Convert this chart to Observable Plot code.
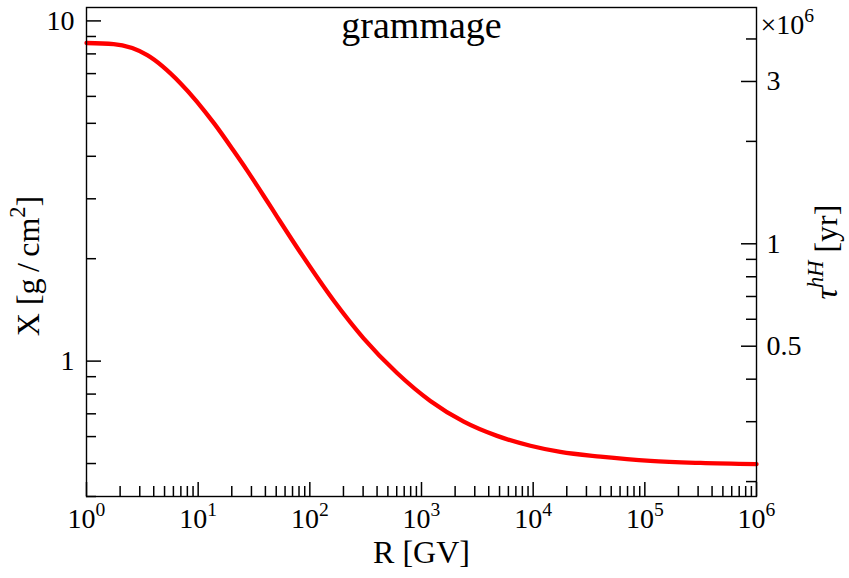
<!DOCTYPE html>
<html><head><meta charset="utf-8">
<script src="https://cdn.jsdelivr.net/npm/d3@7"></script>
<script src="https://cdn.jsdelivr.net/npm/@observablehq/plot@0.6"></script>
<style>
  html,body{margin:0;padding:0;background:#fff}
  #chart{width:849px;height:578px}
</style>
</head><body><div id="chart"></div>
<script>
// ---- data ----
const rigidityGV = [1, 1.75, 3.5, 7, 14, 21, 27.5, 41.5, 51, 82, 164, 303, 604, 1200, 2390, 4750, 9440, 17500, 40000, 112000, 316000, 1000000];
const grammageX  = [8.61, 8.54, 7.93, 6.54, 4.98, 4.13, 3.63, 2.95, 2.655, 2.09, 1.505, 1.167, 0.923, 0.764, 0.664, 0.603, 0.564, 0.541, 0.524, 0.509, 0.502, 0.498];

const xDecades    = [1, 10, 100, 1000, 10000, 100000, 1000000];
const xExponents  = ["0", "1", "2", "3", "4", "5", "6"];
const yMajor      = [1, 10];
const yMajorText  = ["1", "10"];
const yMinor      = [0.4, 0.5, 0.6, 0.7, 0.8, 0.9, 2, 3, 4, 5, 6, 7, 8, 9];
const tauPerX     = 0.452;          // 10^6 yr per g/cm^2 (right axis scale)
const tauMajor    = [0.5, 1, 3];
const tauMajorText= ["0.5", "1", "3"];
const tauMinor    = [0.2, 0.3, 0.4, 0.6, 0.7, 0.8, 0.9, 2, 4];
const yDomain     = [0.4, 10.95];

const data = rigidityGV.map((r, i) => ({R: r, X: grammageX[i]}));
const xMinor = xDecades.slice(0, -1).flatMap(d => [2,3,4,5,6,7,8,9].map(m => m * d));

const W = 849, H = 578, ML = 86, MR = 93, MT = 7, MB = 82;
const PW = W - ML - MR, PH = H - MT - MB;
const font = "'Liberation Serif', 'DejaVu Serif', serif";

const chart = Plot.plot({
  width: W, height: H,
  marginLeft: ML, marginRight: MR, marginTop: MT, marginBottom: MB,
  style: {fontFamily: font, background: "white", color: "black", overflow: "visible"},
  x: {type: "log", domain: [1, 1e6], axis: null},
  y: {type: "log", domain: yDomain, axis: null},
  marks: [
    // ticks (inward)
    Plot.tickX(xDecades, {x: d => d, insetTop: PH - 14, stroke: "black", strokeWidth: 1.5}),
    Plot.tickX(xMinor,   {x: d => d, insetTop: PH - 10, stroke: "black", strokeWidth: 1.5}),
    Plot.tickY(yMajor,   {y: d => d, insetRight: PW - 15, stroke: "black", strokeWidth: 1.5}),
    Plot.tickY(yMinor,   {y: d => d, insetRight: PW - 10, stroke: "black", strokeWidth: 1.5}),
    Plot.tickY(tauMajor, {y: d => d / tauPerX, insetLeft: PW - 15, stroke: "black", strokeWidth: 1.5}),
    Plot.tickY(tauMinor, {y: d => d / tauPerX, insetLeft: PW - 10, stroke: "black", strokeWidth: 1.5}),
    // curve
    Plot.line(data, {x: "R", y: "X", stroke: "#ff0000", strokeWidth: 4.3, curve: "monotone-x"}),
    Plot.frame({stroke: "black", strokeWidth: 1.4}),
    // x tick labels
    Plot.text(xDecades, {x: d => d, text: (d, i) => "10^{" + xExponents[i] + "}", frameAnchor: "bottom",
      dy: 31, textAnchor: "middle", lineAnchor: "bottom", fontSize: 28}),
    // left tick labels
    Plot.text(yMajor, {y: d => d, text: (d, i) => yMajorText[i], frameAnchor: "left",
      dx: -12, textAnchor: "end", lineAnchor: "middle", fontSize: 28}),
    // right tick labels
    Plot.text(tauMajor, {y: d => d / tauPerX, text: (d, i) => tauMajorText[i], frameAnchor: "right",
      dx: 10, textAnchor: "start", lineAnchor: "middle", fontSize: 28}),
    Plot.text(["×10^{6}"], {frameAnchor: "top-right", dx: 4, dy: 26, textAnchor: "start", lineAnchor: "bottom", fontSize: 28}),
    // title and axis labels
    Plot.text(["grammage"], {frameAnchor: "top", dy: 30, textAnchor: "middle", lineAnchor: "bottom", fontSize: 38}),
    Plot.text(["R [GV]"], {frameAnchor: "bottom", dy: 66, textAnchor: "middle", lineAnchor: "bottom", fontSize: 32}),
    Plot.text(["X [g\u2009/\u2009cm^{2}]"], {frameAnchor: "left", dx: -58, dy: 14, rotate: -90, textAnchor: "middle", lineAnchor: "middle", fontSize: 32}),
    Plot.text(["*{τ}^*{hH} [yr]"], {frameAnchor: "right", dx: 70, dy: 0, rotate: -90, textAnchor: "middle", lineAnchor: "middle", fontSize: 32})
  ]
});
document.getElementById("chart").appendChild(chart);

// rich text: ^{..} superscript, *{..} italic, ^*{..} italic superscript
d3.select(chart).selectAll("text").each(function () {
  const s = this.textContent;
  if (!/[\^*]\{/.test(s)) return;
  const base = parseFloat(getComputedStyle(this).fontSize) || 28;
  const parts = s.split(/(\^\*?\{[^}]*\}|\*\{[^}]*\})/).filter(p => p !== "");
  this.textContent = "";
  let raised = false;
  for (const p of parts) {
    const t = document.createElementNS("http://www.w3.org/2000/svg", "tspan");
    let m;
    if ((m = p.match(/^\^(\*?)\{([^}]*)\}$/))) {
      t.textContent = m[2];
      t.setAttribute("font-size", (base * 0.7) + "px");
      if (m[1]) t.setAttribute("font-style", "italic");
      if (!raised) t.setAttribute("dy", (-base * 0.42) + "px");
      raised = true;
    } else {
      if ((m = p.match(/^\*\{([^}]*)\}$/))) {
        t.textContent = m[1];
        t.setAttribute("font-style", "italic");
      } else t.textContent = p;
      if (raised) t.setAttribute("dy", (base * 0.42) + "px");
      raised = false;
    }
    this.appendChild(t);
  }
});
</script>
</body></html>
